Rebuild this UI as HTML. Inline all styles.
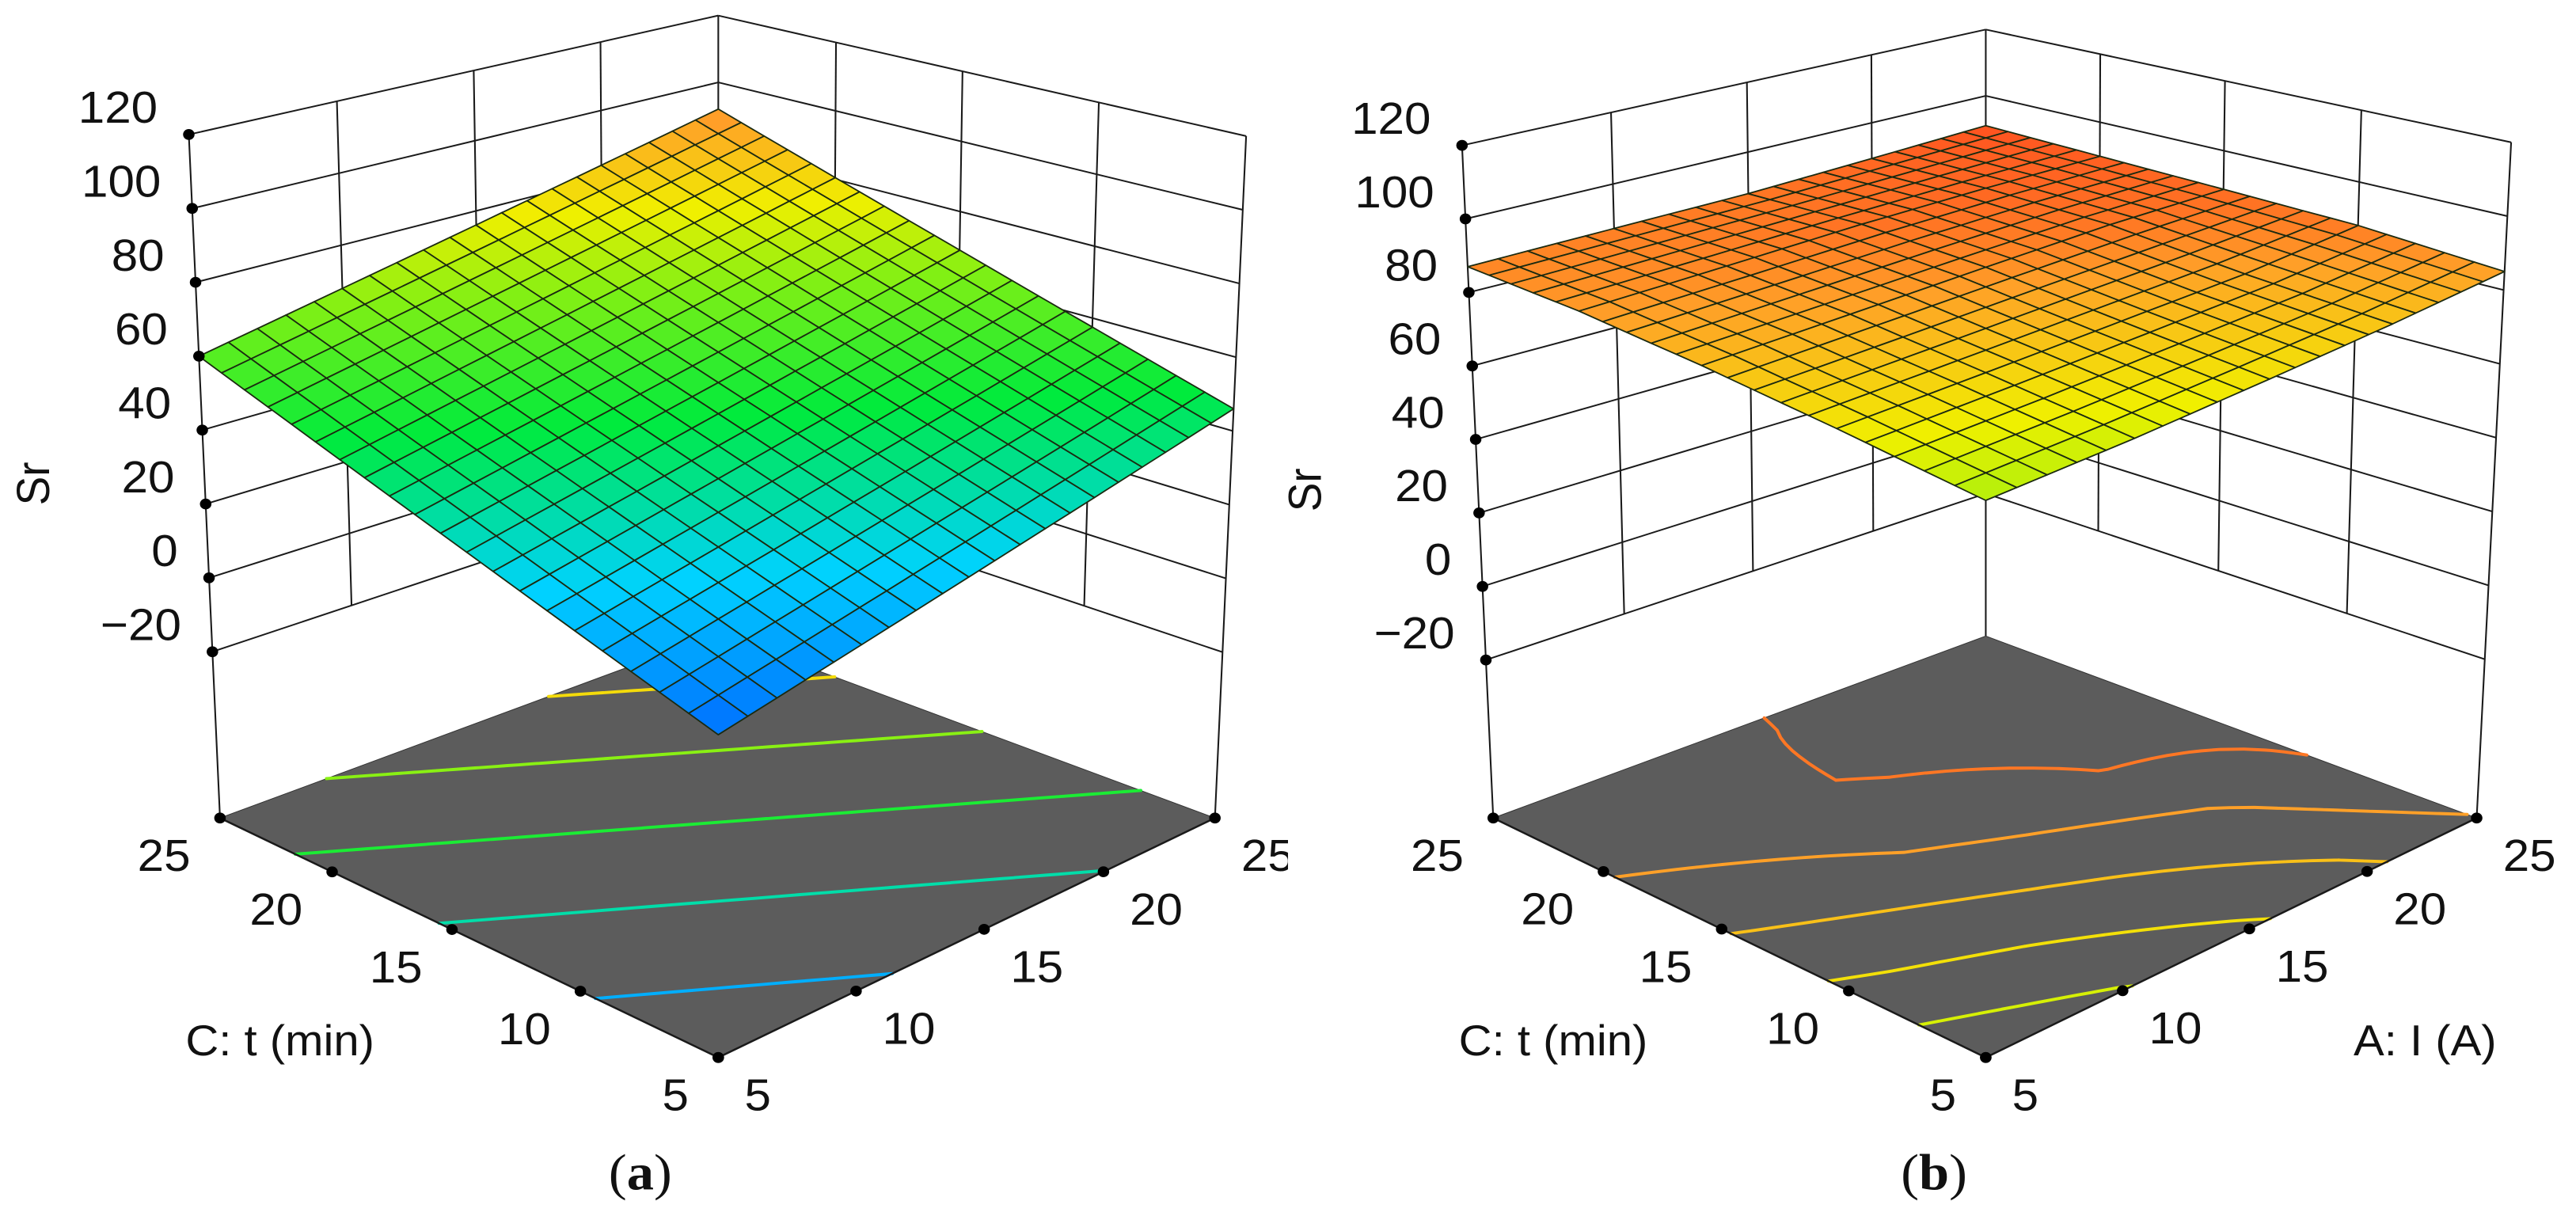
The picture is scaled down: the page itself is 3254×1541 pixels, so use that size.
<!DOCTYPE html>
<html><head><meta charset="utf-8"><style>
html,body{margin:0;padding:0;background:#fff;width:3254px;height:1541px;overflow:hidden}
svg{position:absolute;top:0;overflow:hidden}
text{font-family:"Liberation Sans",sans-serif;fill:#111}
</style></head><body>
<svg id="pa" style="left:0" width="1627" height="1541" viewBox="0 0 1569 1569" preserveAspectRatio="none"></svg>
<svg id="pb" style="left:1627px" width="1627" height="1541" viewBox="0 0 1569 1569" preserveAspectRatio="none"></svg>
<script>
// ---- data ----
const zTicks = [-20, 0, 20, 40, 60, 80, 100, 120];
const zTickLabels = ["\u221220", "0", "20", "40", "60", "80", "100", "120"];
const aTicks = [5, 10, 15, 20, 25];
const cTicks = [5, 10, 15, 20, 25];
// Sr values at grid [C index][A index]
const srA = [
  [14, 22, 30, 38, 46],
  [25.5, 33.5, 41.5, 49.5, 57.5],
  [37, 45, 53, 61, 69],
  [48.5, 56.5, 64.5, 72.5, 80.5],
  [60, 68, 76, 84, 92]
];
const srB = [
  [74, 76, 78.7, 81.6, 85],
  [78.6, 80.5, 82.5, 84.5, 87.9],
  [82.5, 84.5, 86.5, 88.3, 89],
  [85.5, 87, 88.6, 89.5, 90],
  [87, 87.6, 88.1, 89.5, 91]
];
const levelsA = [24.2, 38.2, 52.2, 66.2, 80.2];
const levelsB = [76.2, 79.2, 82.2, 85.2, 88.2];

const NS = "http://www.w3.org/2000/svg";
function el(parent, tag, attrs, txt) {
  const e = document.createElementNS(NS, tag);
  for (const k in attrs) e.setAttribute(k, attrs[k]);
  if (txt !== undefined) e.textContent = txt;
  parent.appendChild(e);
  return e;
}
function homog(q) {
  const [x0, y0] = q[0], [x1, y1] = q[1], [x2, y2] = q[2], [x3, y3] = q[3];
  const dx1 = x1 - x2, dx2 = x3 - x2, dx3 = x0 - x1 + x2 - x3;
  const dy1 = y1 - y2, dy2 = y3 - y2, dy3 = y0 - y1 + y2 - y3;
  const den = dx1 * dy2 - dx2 * dy1;
  const g = (dx3 * dy2 - dx2 * dy3) / den, h = (dx1 * dy3 - dx3 * dy1) / den;
  const a = x1 - x0 + g * x1, b = x3 - x0 + h * x3, d = y1 - y0 + g * y1, e = y3 - y0 + h * y3;
  return (u, v) => { const w = g * u + h * v + 1; return [(a * u + b * v + x0) / w, (d * u + e * v + y0) / w]; };
}
const stops = [[0, [0, 80, 255]], [0.22, [0, 210, 255]], [0.42, [0, 235, 60]], [0.6, [130, 240, 20]], [0.72, [240, 240, 0]], [0.86, [255, 160, 40]], [1, [255, 60, 30]]];
function cmap(t) {
  t = Math.max(0, Math.min(1, t));
  for (let i = 1; i < stops.length; i++) {
    if (t <= stops[i][0]) {
      const [t0, c0] = stops[i - 1], [t1, c1] = stops[i];
      const f = (t - t0) / (t1 - t0);
      return "rgb(" + c0.map((c, k) => Math.round(c + (c1[k] - c) * f)).join(",") + ")";
    }
  }
  return "rgb(255,60,30)";
}
function sample(grid, u, v) {
  const x = u * 4, y = v * 4;
  const i = Math.min(3, Math.floor(x)), j = Math.min(3, Math.floor(y));
  const fx = x - i, fy = y - j;
  return grid[j][i] * (1 - fx) * (1 - fy) + grid[j][i + 1] * fx * (1 - fy) + grid[j + 1][i] * (1 - fx) * fy + grid[j + 1][i + 1] * fx * fy;
}

function drawPanel(svg, P) {
  const zf = P.zf, zt = P.zt;
  const proj = (u, v, z) => {
    const t = (z - zf) / (zt - zf);
    const q = [0, 1, 2, 3].map(k => [P.floor[k][0] + (P.top[k][0] - P.floor[k][0]) * t, P.floor[k][1] + (P.top[k][1] - P.floor[k][1]) * t]);
    return homog(q)(u, v);
  };
  const line = (p, q, name, w, col) => {
    const l = el(svg, "line", { x1: p[0], y1: p[1], x2: q[0], y2: q[1], stroke: col || "#1a1a1a", "stroke-width": w || 2 });
    
    
    return l;
  };
  const zmin = zTicks[0], zmax = zTicks[zTicks.length - 1];
  zTicks.forEach(z => {
    line(proj(0, 1, z), proj(1, 1, z), "left-wall-gridline");
    line(proj(1, 1, z), proj(1, 0, z), "right-wall-gridline");
  });
  [0.25, 0.5, 0.75].forEach(f => {
    line(proj(f, 1, zmin), proj(f, 1, zmax), "left-wall-vertical");
    line(proj(1, f, zmin), proj(1, f, zmax), "right-wall-vertical");
  });
  [[0, 1], [1, 1], [1, 0]].forEach(c => line(proj(c[0], c[1], zf), proj(c[0], c[1], zmax), "box-vertical-edge"));
  const fl = [[0, 0], [1, 0], [1, 1], [0, 1]].map(c => proj(c[0], c[1], zf).join(",")).join(" ");
  const floor = el(svg, "polygon", { points: fl, fill: "#5c5c5c", stroke: "#333", "stroke-width": 1 });
  
  
  const N = 40;
  const range = P.hi - P.lo;
  P.levels.forEach(L => {
    let d = "";
    for (let j = 0; j < N; j++) for (let i = 0; i < N; i++) {
      const pts = [[i / N, j / N], [(i + 1) / N, j / N], [(i + 1) / N, (j + 1) / N], [i / N, (j + 1) / N]];
      const vals = pts.map(p => sample(P.grid, p[0], p[1]));
      const cross = [];
      for (let k = 0; k < 4; k++) {
        const a = vals[k], b = vals[(k + 1) % 4];
        if ((a < L) !== (b < L)) {
          const f = (L - a) / (b - a);
          const p = pts[k], q = pts[(k + 1) % 4];
          cross.push([p[0] + (q[0] - p[0]) * f, p[1] + (q[1] - p[1]) * f]);
        }
      }
      for (let m = 0; m + 1 < cross.length; m += 2) {
        const s = proj(cross[m][0], cross[m][1], zf), e = proj(cross[m + 1][0], cross[m + 1][1], zf);
        d += "M" + s[0].toFixed(1) + "," + s[1].toFixed(1) + "L" + e[0].toFixed(1) + "," + e[1].toFixed(1);
      }
    }
    const c = el(svg, "path", { d: d, stroke: cmap((L - P.lo) / range), "stroke-width": 4, fill: "none", "stroke-linecap": "round" });
    
    
  });
  line(proj(0, 0, zf), proj(0, 1, zf), "c-axis-line", 2.5);
  line(proj(0, 0, zf), proj(1, 0, zf), "a-axis-line", 2.5);
  const M = 20;
  const cells = [];
  for (let j = 0; j < M; j++) for (let i = 0; i < M; i++) cells.push([i, j]);
  cells.sort((p, q) => (q[0] + q[1]) - (p[0] + p[1]));
  const g = el(svg, "g", {});
  
  
  cells.forEach(([i, j]) => {
    const c = [[i, j], [i + 1, j], [i + 1, j + 1], [i, j + 1]].map(p => [p[0] / M, p[1] / M]);
    const zs = c.map(p => sample(P.grid, p[0], p[1]));
    const pts = c.map((p, k) => proj(p[0], p[1], zs[k]).map(n => n.toFixed(1)).join(",")).join(" ");
    const zc = zs.reduce((s, x) => s + x, 0) / 4;
    const poly = el(g, "polygon", { points: pts, fill: cmap((zc - P.lo) / range), stroke: "#1b2a10", "stroke-width": 1.8, "stroke-linejoin": "round" });
    
    
  });
  zTicks.forEach((z, k) => {
    const p = proj(0, 1, z);
    const dot = el(svg, "circle", { cx: p[0], cy: p[1], r: 7, fill: "#000" });
    
    
    const t = el(svg, "text", { x: p[0] - 38, y: p[1] - 15, "text-anchor": "end", "font-size": 58 }, zTickLabels[k]);
    
    
  });
  cTicks.forEach(c => {
    const v = (c - 5) / 20;
    const p = proj(0, v, zf);
    const dot = el(svg, "circle", { cx: p[0], cy: p[1], r: 7, fill: "#000" });
    
    
    const t = el(svg, "text", { x: p[0] - 36, y: p[1] + 68, "text-anchor": "end", "font-size": 58 }, String(c));
    
    
  });
  aTicks.forEach(a => {
    const u = (a - 5) / 20;
    const p = proj(u, 0, zf);
    const dot = el(svg, "circle", { cx: p[0], cy: p[1], r: 7, fill: "#000" });
    
    
    const t = el(svg, "text", { x: p[0] + 32, y: p[1] + 68, "text-anchor": "start", "font-size": 58 }, String(a));
    
    
  });
  const ct = el(svg, "text", { x: P.cLabel[0], y: P.cLabel[1], "font-size": 56 }, "C: t (min)");
  
  
  if (P.aLabel) {
    const at = el(svg, "text", { x: P.aLabel[0], y: P.aLabel[1], "font-size": 56 }, "A: I (A)");
    
    
  }
  const sr = el(svg, "text", { x: P.sr[0], y: P.sr[1], "font-size": 56, "text-anchor": "middle", transform: "rotate(-90 " + P.sr[0] + " " + P.sr[1] + ")" }, "Sr");
  
  
  const cap = el(svg, "text", { x: P.cap[0], y: P.cap[1], "font-size": 66, "text-anchor": "middle", style: "font-family:'Liberation Serif',serif" });
  
  
  el(cap, "tspan", {}, "(");
  el(cap, "tspan", { "font-weight": "bold" }, P.capLetter);
  el(cap, "tspan", {}, ")");
}

drawPanel(document.getElementById("pa"), {
  floor: [[875, 1360], [1480, 1052], [875, 815], [268, 1052]],
  top: [[875, 388], [1518, 175], [875, 20], [230, 173]],
  zf: -65, zt: 120, grid: srA, levels: levelsA, lo: 9.3, hi: 103,
  cLabel: [226, 1357], aLabel: null, sr: [60, 622], cap: [780, 1530], capLetter: "a"
});
drawPanel(document.getElementById("pb"), {
  floor: [[850, 1360], [1448, 1052], [850, 818], [250, 1052]],
  top: [[850, 403], [1490, 183], [850, 38], [212, 187]],
  zf: -63, zt: 120, grid: srB, levels: levelsB, lo: 39.5, hi: 92.6,
  cLabel: [208, 1357], aLabel: [1298, 1357], sr: [40, 630], cap: [787, 1530], capLetter: "b"
});
</script>
</body></html>
